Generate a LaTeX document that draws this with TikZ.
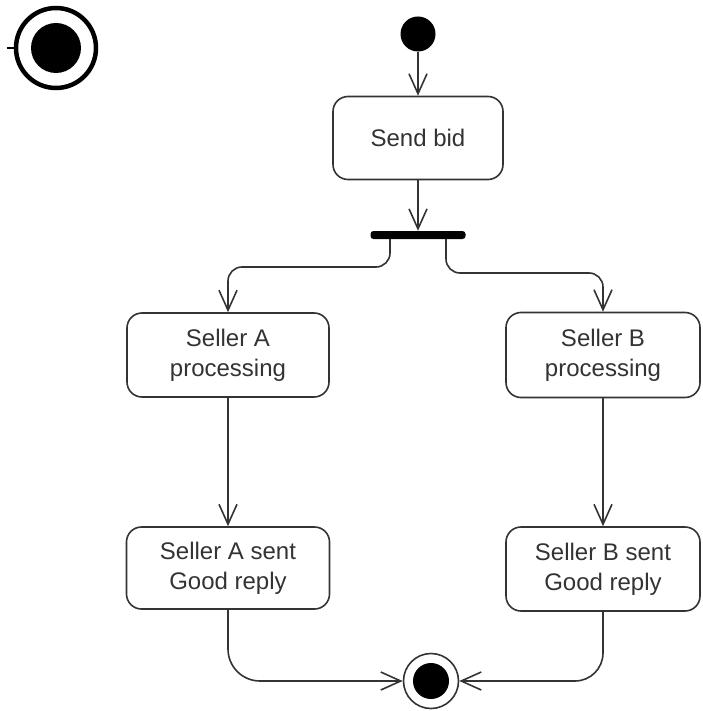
\documentclass[tikz,border=0pt]{standalone}
\usepackage{fontspec}
\setmainfont{Liberation Sans}
\definecolor{ink}{HTML}{333333}
\usetikzlibrary{calc, positioning, arrows.meta}

\begin{document}
\begin{tikzpicture}[
  x=1pt, y=-1pt,
  >={Straight Barb[length=20pt, width=18pt]},
  act/.style={draw=ink, line width=1.6pt, rounded corners=15pt, align=center,
    font=\fontsize{24}{30}\selectfont, text=ink, inner sep=0pt},
  flow/.style={->, draw=ink, line width=1.6pt},
]
\useasboundingbox (0,0) rectangle (702,711);

% Final node symbol (top left)
\node (legend) [circle, draw, line width=4.5pt, minimum size=80pt, inner sep=0pt] at (56,48) {};
\fill (legend.center) circle (25pt);
\draw[line width=1.5pt] ([xshift=-7pt]legend.west) -- (legend.west);

% Start
\node (start) [circle, fill=black, minimum size=35pt, inner sep=0pt] at (418,34) {};

% Actions
\node (send) [act, minimum width=170pt, minimum height=83pt] at (418,138) {Send bid};
\node (fork) [fill=black, rounded corners=3pt, minimum width=95pt, minimum height=8pt, inner sep=0pt] at (418,235) {};
\node (sellA) [act, minimum width=202pt, minimum height=84pt] at (228,355) {Seller A\\processing};
\node (sellB) [act, minimum width=194pt, minimum height=85pt] at (603,355) {Seller B\\processing};
\node (sentA) [act, minimum width=203pt, minimum height=82pt] at (228,568) {Seller A sent\\Good reply};
\node (sentB) [act, minimum width=194pt, minimum height=84pt] at (603,569) {Seller B sent\\Good reply};

% End
\node (end) [circle, draw=ink, line width=1.6pt, minimum size=55pt, inner sep=0pt] at (431,681) {};
\fill (end.center) circle (18pt);

% Flows
\coordinate (forkL) at (390,267);
\coordinate (forkR) at (446,273);
\draw[flow] (start) -- (send);
\draw[flow] (send) -- (fork);
\draw[flow, rounded corners=14pt] (fork.south -| forkL) -- (forkL) -| (sellA.north);
\draw[flow, rounded corners=14pt] (fork.south -| forkR) -- (forkR) -| (sellB.north);
\draw[flow] (sellA) -- (sentA);
\draw[flow] (sellB) -- (sentB);
\draw[flow, rounded corners=32pt] (sentA.south) |- (end.west);
\draw[flow, rounded corners=28pt] (sentB.south) |- (end.east);
\end{tikzpicture}
\end{document}
